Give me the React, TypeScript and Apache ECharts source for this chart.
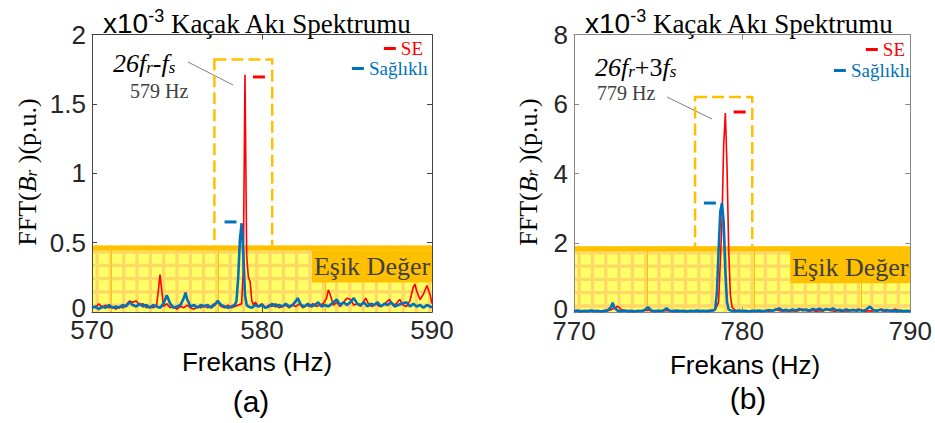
import React, { useEffect, useRef } from "react";
import * as echarts from "echarts";

type Pt = [number, number];

const SANS = '"Liberation Sans", Arial, sans-serif';
const SERIF = '"Liberation Serif", "Times New Roman", serif';
const RED = "#ff0000";
const BLUE = "#0072bd";

// axis ticks
const freqTicksA = [570, 580, 590];
const freqTicksB = [770, 780, 790];
const ampTicksA = [0, 0.5, 1, 1.5, 2];
const ampTicksB = [0, 2, 4, 6, 8];

// (a) SE spectrum, x1e-3 p.u.
const seA: Pt[] = [
  [570.0, 0.04], [570.2, 0.03], [570.4, 0.06], [570.6, 0.03], [570.8, 0.05], [571.0, 0.03], [571.2, 0.04],
  [571.4, 0.02], [571.6, 0.04], [571.8, 0.03], [572.0, 0.05], [572.2, 0.08], [572.4, 0.07], [572.6, 0.08],
  [572.8, 0.05], [573.0, 0.06], [573.2, 0.03], [573.4, 0.04], [573.6, 0.03], [573.8, 0.05], [573.9, 0.15],
  [574.0, 0.27], [574.1, 0.16], [574.2, 0.04], [574.4, 0.06], [574.6, 0.03], [574.8, 0.04], [575.0, 0.02],
  [575.2, 0.04], [575.4, 0.03], [575.6, 0.05], [575.8, 0.03], [576.0, 0.02], [576.2, 0.04], [576.4, 0.03],
  [576.6, 0.05], [576.8, 0.03], [577.0, 0.04], [577.2, 0.06], [577.4, 0.07], [577.6, 0.04], [577.8, 0.03],
  [578.0, 0.05], [578.2, 0.03], [578.4, 0.04], [578.6, 0.05], [578.8, 0.06], [578.9, 0.3], [579.0, 1.71],
  [579.1, 0.4], [579.2, 0.25], [579.3, 0.22], [579.4, 0.08], [579.5, 0.05], [579.6, 0.07], [579.8, 0.04],
  [580.0, 0.06], [580.2, 0.03], [580.4, 0.05], [580.6, 0.04], [580.8, 0.06], [581.0, 0.03], [581.2, 0.04],
  [581.4, 0.05], [581.6, 0.03], [581.8, 0.05], [582.0, 0.04], [582.2, 0.06], [582.4, 0.03], [582.6, 0.05],
  [582.8, 0.04], [583.0, 0.06], [583.2, 0.04], [583.4, 0.05], [583.6, 0.06], [583.8, 0.1], [583.9, 0.16],
  [584.0, 0.13], [584.2, 0.05], [584.4, 0.07], [584.6, 0.04], [584.8, 0.07], [585.0, 0.1], [585.2, 0.09],
  [585.4, 0.05], [585.6, 0.06], [585.8, 0.04], [586.0, 0.08], [586.1, 0.1], [586.3, 0.05], [586.5, 0.04],
  [586.7, 0.06], [586.9, 0.04], [587.1, 0.05], [587.3, 0.07], [587.5, 0.09], [587.7, 0.05], [587.9, 0.06],
  [588.1, 0.09], [588.3, 0.05], [588.5, 0.04], [588.7, 0.08], [588.9, 0.18], [589.0, 0.2], [589.1, 0.15],
  [589.3, 0.09], [589.5, 0.13], [589.7, 0.19], [589.9, 0.12], [590.0, 0.06],
];

// (a) healthy spectrum
const healthyA: Pt[] = [
  [570.0, 0.03], [570.2, 0.04], [570.4, 0.02], [570.6, 0.04], [570.8, 0.03], [571.0, 0.05], [571.2, 0.03],
  [571.4, 0.04], [571.6, 0.03], [571.8, 0.05], [572.0, 0.04], [572.2, 0.07], [572.4, 0.05], [572.6, 0.04],
  [572.8, 0.06], [573.0, 0.04], [573.2, 0.05], [573.4, 0.03], [573.6, 0.05], [573.8, 0.04], [574.0, 0.03],
  [574.2, 0.06], [574.4, 0.12], [574.6, 0.06], [574.8, 0.03], [575.0, 0.04], [575.2, 0.05], [575.4, 0.1],
  [575.5, 0.14], [575.6, 0.09], [575.8, 0.04], [576.0, 0.05], [576.2, 0.03], [576.4, 0.05], [576.6, 0.04],
  [576.8, 0.05], [577.0, 0.03], [577.2, 0.05], [577.4, 0.08], [577.6, 0.05], [577.8, 0.04], [578.0, 0.03],
  [578.2, 0.04], [578.4, 0.05], [578.5, 0.08], [578.6, 0.25], [578.7, 0.52], [578.8, 0.64], [578.9, 0.42],
  [579.0, 0.12], [579.1, 0.05], [579.2, 0.04], [579.4, 0.03], [579.6, 0.05], [579.8, 0.04], [580.0, 0.05],
  [580.2, 0.03], [580.4, 0.04], [580.6, 0.06], [580.8, 0.04], [581.0, 0.05], [581.2, 0.04], [581.4, 0.06],
  [581.6, 0.04], [581.8, 0.05], [582.0, 0.08], [582.1, 0.1], [582.3, 0.05], [582.5, 0.04], [582.7, 0.06],
  [582.9, 0.04], [583.1, 0.05], [583.3, 0.07], [583.5, 0.04], [583.7, 0.05], [583.9, 0.04], [584.1, 0.06],
  [584.4, 0.09], [584.6, 0.05], [584.8, 0.07], [585.0, 0.05], [585.2, 0.07], [585.4, 0.1], [585.6, 0.06],
  [585.8, 0.05], [586.0, 0.07], [586.2, 0.04], [586.4, 0.06], [586.6, 0.05], [586.8, 0.07], [587.0, 0.04],
  [587.2, 0.06], [587.4, 0.05], [587.6, 0.07], [587.8, 0.04], [588.0, 0.05], [588.2, 0.06], [588.5, 0.07],
  [588.7, 0.04], [588.9, 0.06], [589.1, 0.04], [589.3, 0.05], [589.5, 0.03], [589.7, 0.05], [589.9, 0.04],
  [590.0, 0.03],
];

// (b) SE spectrum
const seB: Pt[] = [
  [770.0, 0.05], [770.2, 0.03], [770.4, 0.06], [770.6, 0.04], [770.8, 0.03], [771.0, 0.05], [771.2, 0.03],
  [771.4, 0.04], [771.6, 0.05], [771.8, 0.03], [772.0, 0.05], [772.2, 0.08], [772.4, 0.12], [772.6, 0.18],
  [772.8, 0.09], [773.0, 0.05], [773.2, 0.03], [773.4, 0.04], [773.6, 0.03], [773.8, 0.05], [774.0, 0.04],
  [774.2, 0.06], [774.4, 0.07], [774.6, 0.04], [774.8, 0.03], [775.0, 0.05], [775.2, 0.04], [775.4, 0.06],
  [775.6, 0.05], [775.8, 0.03], [776.0, 0.04], [776.2, 0.03], [776.4, 0.05], [776.6, 0.04], [776.8, 0.03],
  [777.0, 0.05], [777.2, 0.04], [777.4, 0.03], [777.6, 0.05], [777.8, 0.04], [778.0, 0.06], [778.2, 0.05],
  [778.4, 0.08], [778.6, 0.3], [778.8, 2.6], [778.9, 4.8], [779.0, 5.74], [779.1, 4.2], [779.2, 1.8],
  [779.3, 0.5], [779.4, 0.15], [779.6, 0.06], [779.8, 0.04], [780.0, 0.05], [780.2, 0.03], [780.4, 0.05],
  [780.6, 0.04], [780.8, 0.06], [781.0, 0.04], [781.2, 0.03], [781.4, 0.05], [781.6, 0.04], [781.8, 0.06],
  [782.0, 0.1], [782.2, 0.06], [782.4, 0.04], [782.6, 0.05], [782.8, 0.03], [783.0, 0.05], [783.2, 0.04],
  [783.4, 0.06], [783.6, 0.1], [783.8, 0.05], [784.0, 0.04], [784.2, 0.06], [784.4, 0.03], [784.6, 0.05],
  [784.8, 0.04], [785.1, 0.1], [785.3, 0.05], [785.5, 0.04], [785.7, 0.06], [785.9, 0.03], [786.1, 0.05],
  [786.3, 0.04], [786.5, 0.06], [786.7, 0.05], [786.9, 0.1], [787.1, 0.05], [787.3, 0.03], [787.5, 0.05],
  [787.7, 0.04], [787.9, 0.06], [788.1, 0.05], [788.3, 0.1], [788.5, 0.04], [788.7, 0.05], [788.9, 0.06],
  [789.1, 0.1], [789.3, 0.05], [789.5, 0.03], [789.7, 0.05], [789.9, 0.04], [790.0, 0.05],
];

// (b) healthy spectrum
const healthyB: Pt[] = [
  [770.0, 0.04], [770.2, 0.06], [770.4, 0.03], [770.6, 0.05], [770.8, 0.04], [771.0, 0.06], [771.2, 0.04],
  [771.4, 0.05], [771.6, 0.03], [771.8, 0.05], [772.0, 0.06], [772.2, 0.15], [772.3, 0.28], [772.4, 0.14],
  [772.6, 0.05], [772.8, 0.04], [773.0, 0.06], [773.2, 0.04], [773.4, 0.05], [773.6, 0.03], [773.8, 0.05],
  [774.0, 0.04], [774.2, 0.07], [774.4, 0.15], [774.6, 0.06], [774.8, 0.04], [775.0, 0.05], [775.2, 0.04],
  [775.4, 0.08], [775.5, 0.12], [775.7, 0.05], [775.9, 0.04], [776.1, 0.06], [776.3, 0.04], [776.5, 0.05],
  [776.7, 0.03], [776.9, 0.05], [777.1, 0.04], [777.3, 0.06], [777.5, 0.04], [777.7, 0.05], [777.9, 0.04],
  [778.1, 0.05], [778.3, 0.06], [778.4, 0.1], [778.5, 0.6], [778.6, 1.8], [778.7, 2.9], [778.8, 3.15],
  [778.9, 2.6], [779.0, 1.2], [779.1, 0.3], [779.2, 0.08], [779.4, 0.05], [779.6, 0.04], [779.8, 0.06],
  [780.0, 0.04], [780.2, 0.05], [780.4, 0.03], [780.6, 0.05], [780.8, 0.04], [781.0, 0.06], [781.2, 0.04],
  [781.4, 0.05], [781.6, 0.07], [781.8, 0.05], [782.0, 0.08], [782.2, 0.12], [782.4, 0.06], [782.6, 0.08],
  [782.8, 0.05], [783.0, 0.09], [783.2, 0.06], [783.4, 0.1], [783.6, 0.06], [783.8, 0.09], [784.0, 0.05],
  [784.2, 0.1], [784.4, 0.07], [784.6, 0.11], [784.8, 0.06], [785.0, 0.1], [785.2, 0.07], [785.4, 0.12],
  [785.6, 0.06], [785.8, 0.08], [786.0, 0.05], [786.2, 0.09], [786.4, 0.06], [786.6, 0.08], [786.8, 0.05],
  [787.0, 0.07], [787.2, 0.05], [787.4, 0.09], [787.6, 0.17], [787.8, 0.07], [788.0, 0.05], [788.2, 0.08],
  [788.4, 0.05], [788.6, 0.07], [788.8, 0.05], [789.0, 0.06], [789.2, 0.04], [789.4, 0.06], [789.6, 0.04],
  [789.8, 0.05], [790.0, 0.04],
];

// threshold levels (Eşik Değer)
const thresholdA = 0.48;
const thresholdB = 1.91;

// highlighted regions [x0, yTop, x1, yBottom]
const boxA = [577.2, 1.82, 580.6, 0.36];
const boxB = [777.2, 6.2, 780.6, 1.42];

// peak level markers
const markSeA: Pt = [579.82, 1.694];
const markHealthyA: Pt = [578.15, 0.649];
const markSeB: Pt = [779.85, 5.77];
const markHealthyB: Pt = [778.08, 3.15];

const titleText = "Kaçak Akı Spektrumu";
const seName = "SE";
const healthyName = "Sağlıklı";
const thresholdLabel = "Eşik Değer";
const xName = "Frekans (Hz)";

function App() {
  const ref = useRef<HTMLDivElement>(null);
  useEffect(() => {
    if (!ref.current) return;
    const chart = echarts.init(ref.current, undefined, { renderer: "svg" });

    const grids = [
      { left: 92, top: 34.5, width: 340, height: 277.5 },
      { left: 574, top: 34.5, width: 339, height: 278 },
    ];
    const axisColors = ["#444444", "#888888"];

    const xTicks = [freqTicksA, freqTicksB];
    const yTicks = [ampTicksA, ampTicksB];

    const xAxes: any[] = [];
    const yAxes: any[] = [];
    [0, 1].forEach((g) => {
      const xt = xTicks[g];
      const yt = yTicks[g];
      const lineStyle = { color: axisColors[g], width: 1 };
      const base = {
        type: "value",
        gridIndex: g,
        z: 2,
        splitLine: { show: false },
        axisLine: { show: true, onZero: false, lineStyle },
        axisTick: { show: true, inside: true, length: 5, lineStyle },
      };
      xAxes.push({
        ...base,
        min: xt[0],
        max: xt[xt.length - 1],
        interval: xt[1] - xt[0],
        position: "bottom",
        axisLabel: { fontSize: 26, fontFamily: SANS, color: "#262626", margin: 6, lineHeight: 24 },
      });
      xAxes.push({
        ...base,
        min: xt[0],
        max: xt[xt.length - 1],
        interval: xt[1] - xt[0],
        position: "top",
        axisLabel: { show: false },
      });
      yAxes.push({
        ...base,
        min: yt[0],
        max: yt[yt.length - 1],
        interval: yt[1] - yt[0],
        position: "left",
        axisLabel: {
          fontSize: 26,
          fontFamily: SANS,
          color: "#262626",
          margin: 6,
          formatter: (v: number) => (v === 0 ? "{z|0}" : String(v)),
          rich: { z: { fontSize: 26, fontFamily: SANS, color: "#262626", lineHeight: 22, padding: [0, 0, 8, 0] } },
        },
      });
      yAxes.push({
        ...base,
        min: yt[0],
        max: yt[yt.length - 1],
        interval: yt[1] - yt[0],
        position: "right",
        axisLabel: { show: false },
      });
    });

    const bandSeries = (g: number, thr: number, xMin: number, accentStart: number) => ({
      type: "custom",
      name: thresholdLabel,
      xAxisIndex: g * 2,
      yAxisIndex: g * 2,
      z: 1,
      silent: true,
      data: [[xMin, thr]],
      encode: { x: 0, y: 1 },
      renderItem: (params: any, api: any) => {
        const cs = params.coordSys;
        const top = api.coord([api.value(0), api.value(1)])[1];
        const left = cs.x;
        const right = cs.x + cs.width;
        const bottom = cs.y + cs.height;
        const stripe = 5;
        const pitch = 13.3;
        const lw = 3.3;
        const children: any[] = [
          { type: "rect", shape: { x: left, y: top, width: cs.width, height: bottom - top }, style: { fill: "#ffff66" } },
        ];
        for (let x = left + 3.5; x < right; x += pitch) {
          children.push({
            type: "rect",
            shape: { x, y: top, width: Math.min(lw, right - x), height: bottom - top },
            style: { fill: "#ffd966" },
          });
        }
        for (let y = top + stripe; y < bottom; y += pitch) {
          children.push({
            type: "rect",
            shape: { x: left, y, width: cs.width, height: Math.min(lw, bottom - y) },
            style: { fill: "#ffd966" },
          });
        }
        for (let x = left + accentStart; x < right; x += 107) {
          children.push({
            type: "rect",
            shape: { x, y: top, width: 1, height: bottom - top },
            style: { fill: "#ffc000" },
          });
        }
        children.push({
          type: "rect",
          shape: { x: left, y: top, width: cs.width, height: stripe },
          style: { fill: "#ffc000" },
        });
        children.push({
          type: "rect",
          shape: { x: right - 120, y: top + stripe, width: 120, height: 32 },
          style: { fill: "#ffc000" },
        });
        children.push({
          type: "text",
          style: {
            text: thresholdLabel,
            x: right - 60,
            y: top + stripe + 16,
            align: "center",
            verticalAlign: "middle",
            fontSize: 26,
            fontFamily: SERIF,
            fill: "#404040",
          },
        });
        return { type: "group", children };
      },
    });

    const boxStyle = {
      color: "rgba(0,0,0,0)",
      borderColor: "#ffc000",
      borderWidth: 2.5,
      borderType: [12, 5],
    };

    const seSeries = (g: number, data: Pt[], box: number[], mark: Pt) => ({
      type: "line",
      name: seName,
      xAxisIndex: g * 2,
      yAxisIndex: g * 2,
      data,
      z: 3,
      showSymbol: false,
      color: RED,
      lineStyle: { color: RED, width: 1.6 },
      markArea: {
        silent: true,
        itemStyle: boxStyle,
        data: [[{ coord: [box[0], box[1]] }, { coord: [box[2], box[3]] }]],
      },
      markPoint: {
        silent: true,
        symbol: "rect",
        symbolSize: [12, 3],
        itemStyle: { color: RED },
        label: { show: false },
        data: [{ coord: mark }],
      },
    });

    const healthySeries = (g: number, data: Pt[], mark: Pt) => ({
      type: "line",
      name: healthyName,
      xAxisIndex: g * 2,
      yAxisIndex: g * 2,
      data,
      z: 4,
      showSymbol: false,
      color: BLUE,
      lineStyle: { color: BLUE, width: 2.6 },
      markPoint: {
        silent: true,
        symbol: "rect",
        symbolSize: [12, 3],
        itemStyle: { color: BLUE },
        label: { show: false },
        data: [{ coord: mark }],
      },
    });

    const legendBase = {
      orient: "vertical",
      icon: "rect",
      itemWidth: 12,
      itemHeight: 3,
      padding: 0,
      selectedMode: false,
    };
    const legendText = (color: string) => ({ color, fontFamily: SERIF, fontSize: 19, lineHeight: 18 });
    const legends = [
      { ...legendBase, data: [seName], right: 512, top: 39, textStyle: legendText(RED) },
      { ...legendBase, data: [healthyName], right: 507, top: 59, textStyle: legendText(BLUE) },
      { ...legendBase, data: [seName], right: 30, top: 40, textStyle: legendText(RED) },
      { ...legendBase, data: [healthyName], right: 25, top: 61, textStyle: legendText(BLUE) },
    ];

    const titleRich = {
      a: { fontFamily: SANS, fontSize: 28, fill: "#000", lineHeight: 30, verticalAlign: "bottom" },
      s: { fontFamily: SANS, fontSize: 18, fill: "#000", lineHeight: 16, verticalAlign: "top" },
      b: { fontFamily: SERIF, fontSize: 27, fill: "#000", lineHeight: 30, verticalAlign: "bottom" },
    };
    const title = (x: number) => ({
      type: "text",
      style: {
        text: `{a|x10}{s|-3}{b| ${titleText}}`,
        x,
        y: 7,
        verticalAlign: "top",
        rich: titleRich,
      },
    });

    const peakRich = {
      i: { fontFamily: SERIF, fontStyle: "italic", fontSize: 26, fill: "#000", lineHeight: 26, verticalAlign: "bottom" },
      n: { fontFamily: SERIF, fontSize: 26, fill: "#000", lineHeight: 26, verticalAlign: "bottom" },
      sub: { fontFamily: SERIF, fontStyle: "italic", fontSize: 17, fill: "#000", lineHeight: 12, verticalAlign: "bottom" },
    };
    const yLabelRich = {
      n: { fontFamily: SERIF, fontSize: 26, fill: "#000", lineHeight: 30, verticalAlign: "bottom" },
      i: { fontFamily: SERIF, fontStyle: "italic", fontSize: 26, fill: "#000", lineHeight: 30, verticalAlign: "bottom" },
      sub: { fontFamily: SERIF, fontStyle: "italic", fontSize: 17, fill: "#000", lineHeight: 14, verticalAlign: "bottom" },
    };
    const yLabel = (x: number, y: number) => ({
      type: "text",
      x,
      y,
      rotation: Math.PI / 2,
      style: {
        text: "{n|FFT(}{i|B}{sub|r}{n| )(p.u.)}",
        x: 0,
        y: 0,
        align: "center",
        verticalAlign: "middle",
        rich: yLabelRich,
      },
    });
    const plain = (text: string, x: number, y: number, size: number, family: string, fill: string) => ({
      type: "text",
      style: { text, x, y, align: "center", verticalAlign: "middle", fontSize: size, fontFamily: family, fill },
    });

    const graphic: any[] = [
      title(103),
      title(585),
      yLabel(25, 172),
      yLabel(526, 172),
      plain(xName, 257, 362, 26, SANS, "#000"),
      plain(xName, 745, 365, 26, SANS, "#000"),
      plain("(a)", 251, 401, 30, SANS, "#000"),
      plain("(b)", 748, 398, 30, SANS, "#000"),
      {
        type: "text",
        style: { text: "{i|26f}{sub|r}{n|-}{i|f}{sub|s}", x: 113, y: 50, verticalAlign: "top", rich: peakRich },
      },
      { type: "text", style: { text: "579 Hz", x: 130, y: 91, verticalAlign: "middle", fontSize: 20, fontFamily: SERIF, fill: "#404040" } },
      { type: "line", shape: { x1: 188, y1: 62, x2: 233, y2: 85 }, style: { stroke: "#808080", lineWidth: 1 } },
      {
        type: "text",
        style: { text: "{i|26f}{sub|r}{n|+3}{i|f}{sub|s}", x: 595, y: 54, verticalAlign: "top", rich: peakRich },
      },
      { type: "text", style: { text: "779 Hz", x: 597, y: 93, verticalAlign: "middle", fontSize: 20, fontFamily: SERIF, fill: "#404040" } },
      { type: "line", shape: { x1: 667, y1: 97, x2: 712, y2: 119 }, style: { stroke: "#808080", lineWidth: 1 } },
    ];

    chart.setOption({
      animation: false,
      backgroundColor: "#ffffff",
      grid: grids,
      xAxis: xAxes,
      yAxis: yAxes,
      legend: legends,
      graphic,
      series: [
        bandSeries(0, thresholdA, freqTicksA[0], 19),
        bandSeries(1, thresholdB, freqTicksB[0], 73),
        seSeries(0, seA, boxA, markSeA),
        healthySeries(0, healthyA, markHealthyA),
        seSeries(1, seB, boxB, markSeB),
        healthySeries(1, healthyB, markHealthyB),
      ],
    });
    return () => chart.dispose();
  }, []);
  return <div ref={ref} style={{ position: "fixed", left: 0, top: 0, width: 935, height: 423 }} />;
}

export default App;
